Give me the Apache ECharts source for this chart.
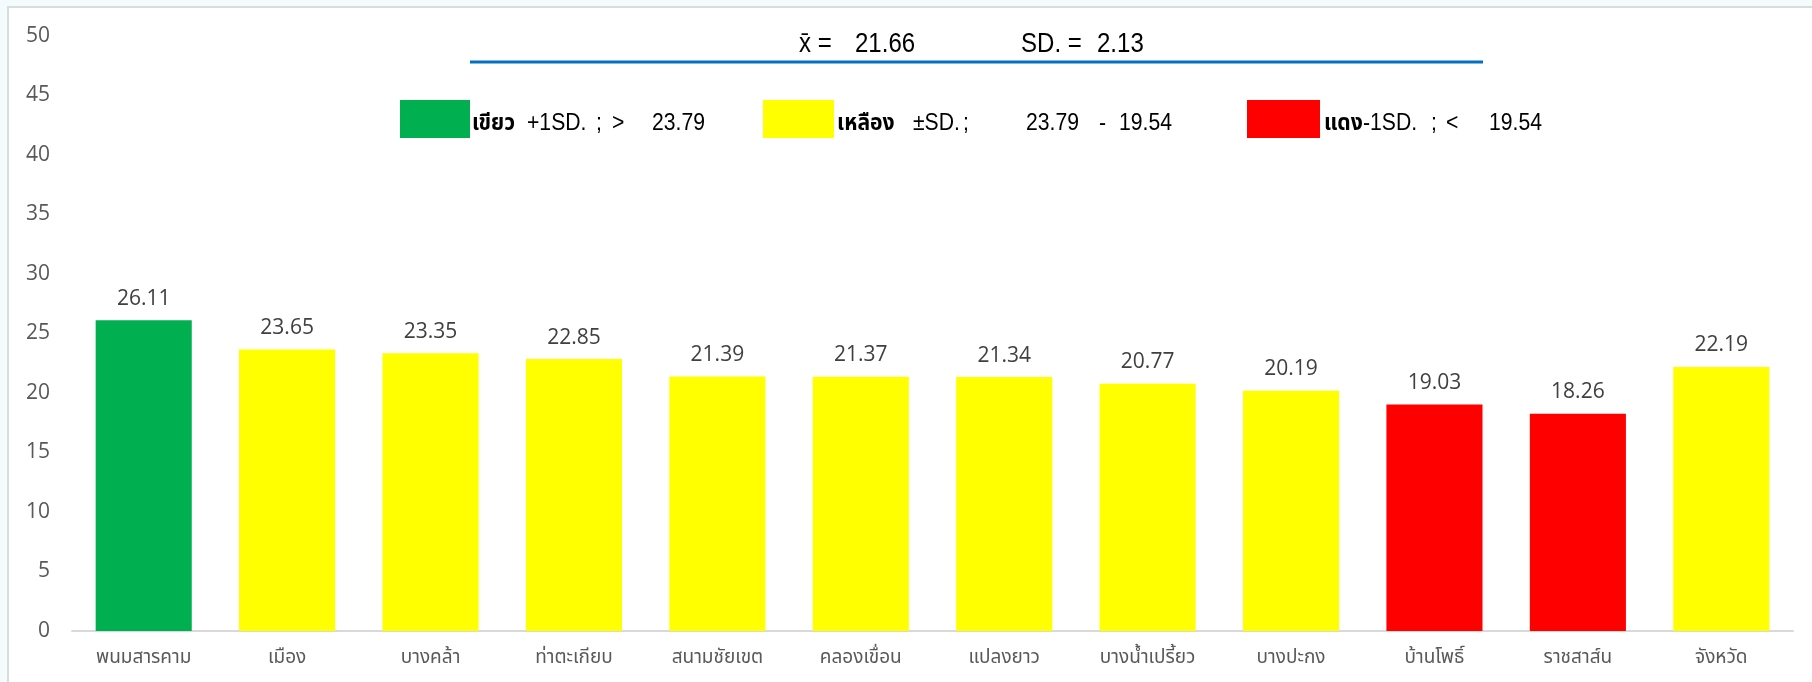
<!DOCTYPE html>
<html>
<head>
<meta charset="utf-8">
<script src="https://cdn.jsdelivr.net/npm/echarts@6/dist/echarts.min.js"></script>
<style>
html,body{margin:0;padding:0;background:#f4fbfd;width:1812px;height:682px;overflow:hidden;}
#c{position:absolute;left:7px;top:6px;width:1803px;height:674px;border-left:2px solid #dadcdc;border-top:2px solid #dadcdc;background:#fff;}
</style>
</head>
<body>
<div id="c"></div>
<script>
// ---- data ----
const categories = ['พนมสารคาม','เมือง','บางคล้า','ท่าตะเกียบ','สนามชัยเขต','คลองเขื่อน','แปลงยาว','บางน้ำเปรี้ยว','บางปะกง','บ้านโพธิ์','ราชสาส์น','จังหวัด'];
const values = [26.11, 23.65, 23.35, 22.85, 21.39, 21.37, 21.34, 20.77, 20.19, 19.03, 18.26, 22.19];
const meanValue = 21.66;
const sdValue = 2.13;
const upperThreshold = 23.79;
const lowerThreshold = 19.54;
const yTicks = [0, 5, 10, 15, 20, 25, 30, 35, 40, 45, 50];

const GREEN = '#00b050', YELLOW = '#ffff00', RED = '#ff0000';
function colorFor(v){ return v > upperThreshold ? GREEN : (v < lowerThreshold ? RED : YELLOW); }

const sansFont = "'Liberation Sans','Noto Sans Thai','Noto Sans',sans-serif";
const labelFont = "'Open Sans',sans-serif";
const chart = echarts.init(document.getElementById('c'), null, {renderer:'canvas'});

// offsets of the chart container inside the page
const OX = 9, OY = 8;
function t(txt, px, py, size, sx, bold){
  return { type: 'text', x: px - OX, y: py - OY, scaleX: sx,
    style: { text: txt, fontFamily: sansFont, fontSize: size, fontWeight: bold ? 'bold' : 'normal',
             fill: '#000', verticalAlign: 'middle', align: 'left' } };
}
function box(px, py, w, h, c){
  return { type: 'rect', shape: { x: px - OX, y: py - OY, width: w, height: h }, style: { fill: c } };
}
const TS = 27, TSX = 0.89, LS = 23, LSX = 0.92, TY = 44.5, LY = 124;

chart.setOption({
  animation: false,
  backgroundColor: '#ffffff',
  grid: { left: 63, right: 19, top: 28, bottom: 51, containLabel: false },
  xAxis: {
    type: 'category',
    data: categories,
    axisLine: { lineStyle: { color: '#d9d9d9', width: 2 } },
    axisTick: { show: false },
    axisLabel: { color: '#595959', fontSize: 19, fontFamily: sansFont, margin: 17, interval: 0 }
  },
  yAxis: {
    type: 'value',
    min: yTicks[0], max: yTicks[yTicks.length-1], interval: 5,
    axisLine: { show: false }, axisTick: { show: false },
    splitLine: { show: false },
    axisLabel: { color: '#595959', fontSize: 21, fontFamily: labelFont, margin: 22 }
  },
  series: [{
    type: 'bar',
    barWidth: '67%',
    data: values.map(v => ({ value: v, itemStyle: { color: colorFor(v) } })),
    label: {
      show: true, position: 'top', distance: 11,
      color: '#404040', fontSize: 21, fontFamily: labelFont,
      formatter: p => p.value.toFixed(2)
    }
  }],
  graphic: [
    // title
    t('x̄ =', 799, TY, TS, TSX),
    t(meanValue.toFixed(2), 855, TY, TS, TSX),
    t('SD. =', 1021, TY, TS, TSX),
    t(sdValue.toFixed(2), 1097, TY, TS, TSX),
    box(470, 60.5, 1013, 3, '#0070c0'),
    // legend: green
    box(400, 100, 70, 38, GREEN),
    t('เขียว', 472, LY, LS, LSX, true),
    t('+1SD.', 527, LY, LS, LSX),
    t(';', 596, LY, LS, LSX),
    t('>', 612, LY, LS, LSX),
    t(upperThreshold.toFixed(2), 652, LY, LS, LSX),
    // legend: yellow
    box(763, 100, 71, 38, YELLOW),
    t('เหลือง', 837, LY, LS, LSX, true),
    t('±SD.', 913, LY, LS, LSX),
    t(';', 963, LY, LS, LSX),
    t(upperThreshold.toFixed(2), 1026, LY, LS, LSX),
    t('-', 1099, LY, LS, LSX),
    t(lowerThreshold.toFixed(2), 1119, LY, LS, LSX),
    // legend: red
    box(1247, 100, 73, 38, RED),
    t('แดง', 1324, LY, LS, LSX, true),
    t('-1SD.', 1363, LY, LS, LSX),
    t(';', 1431, LY, LS, LSX),
    t('<', 1446, LY, LS, LSX),
    t(lowerThreshold.toFixed(2), 1489, LY, LS, LSX)
  ]
});
</script>
</body>
</html>
